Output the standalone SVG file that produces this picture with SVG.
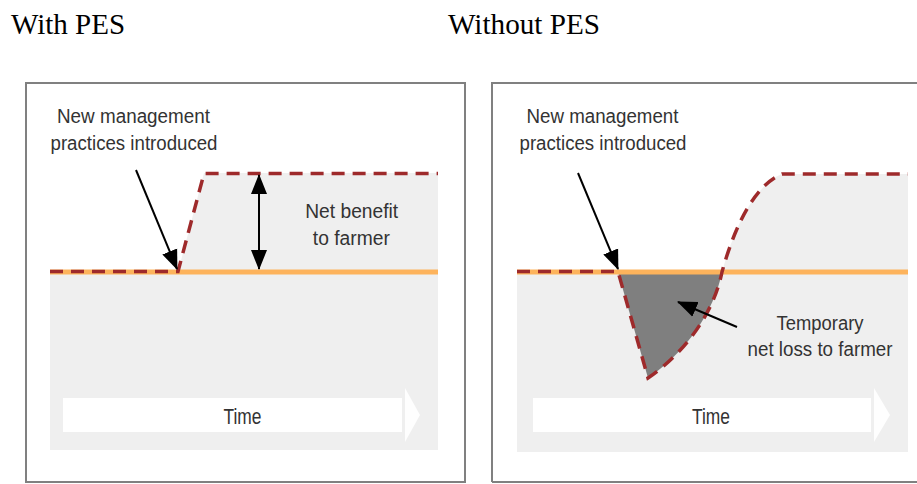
<svg xmlns="http://www.w3.org/2000/svg" width="917" height="484" viewBox="0 0 917 484">
  <defs>
    <marker id="ah" markerUnits="userSpaceOnUse" markerWidth="20" markerHeight="18" refX="19" refY="8" orient="auto-start-reverse" viewBox="0 0 20 16">
      <path d="M0,0 L20,8 L0,16 Z" fill="#000"/>
    </marker>
    <style>
      .title { font-family: "Liberation Serif", "Times New Roman", serif; font-size: 29px; fill: #000; }
      .lbl { font-family: "Liberation Sans Narrow", "Liberation Sans", Arial, sans-serif; font-size: 20px; fill: #333; text-anchor: middle; }
      .time { font-family: "Liberation Sans Narrow", "Liberation Sans", Arial, sans-serif; font-size: 22px; fill: #333; text-anchor: middle; }
      .frame { fill: #fff; stroke: #808080; stroke-width: 2; }
      .bg { fill: #efefef; }
      .loss { fill: #7f7f7f; }
      .base { stroke: #fdb35c; stroke-width: 5; fill: none; }
      .dash { stroke: #9e2a2b; stroke-width: 3.5; fill: none; stroke-dasharray: 13 8; }
      .arrow { stroke: #000; stroke-width: 2; fill: none; marker-end: url(#ah); }
      .darrow { stroke: #000; stroke-width: 2; fill: none; marker-start: url(#ah); marker-end: url(#ah); }
      .timebar { fill: #fff; }
      .timehead { fill: #fff; opacity: 0.9; }
    </style>
  </defs>

  <rect width="917" height="484" fill="#fff"/>

  <g id="title-with">
    <text class="title" x="11" y="34" textLength="114" lengthAdjust="spacingAndGlyphs">With PES</text>
  </g>
  <g id="title-without">
    <text class="title" x="448" y="34" textLength="152" lengthAdjust="spacingAndGlyphs">Without PES</text>
  </g>

  <!-- Left panel -->
  <g id="panel-with">
    <rect class="frame" x="26" y="83" width="439" height="399"/>
    <rect class="bg" x="50" y="272" width="388" height="178"/>
    <path class="bg" d="M178,272 L204,173 L438,173 L438,272 Z"/>
    <rect class="timebar" x="63" y="398" width="339" height="34"/>
    <path class="timehead" d="M405,388 L420,415 L405,442 Z"/>
    <text class="time" x="242.5" y="424" textLength="38" lengthAdjust="spacingAndGlyphs">Time</text>
  </g>

  <!-- Right panel -->
  <g id="panel-without">
    <path d="M492,482 L492,83 L917,83" fill="#fff" stroke="#808080" stroke-width="2"/>
    <path d="M492,482 L917,482" stroke="#808080" stroke-width="2"/>
    <rect class="bg" x="517" y="272" width="391" height="180"/>
    <path class="bg" d="M722,272 C735,225 755,185 782,174 L908,174 L908,272 Z"/>
    <path class="loss" d="M618,272 L648,378 C686,352 714,312 722,272 Z"/>
    <rect class="timebar" x="533" y="398" width="338" height="34"/>
    <path class="timehead" d="M874,388 L890,415 L874,442 Z"/>
    <text class="time" x="711" y="424" textLength="38" lengthAdjust="spacingAndGlyphs">Time</text>
  </g>

  <g id="connectors">
    <line class="base" x1="50" y1="272" x2="438" y2="272"/>
    <path class="dash" d="M50,271.5 L178,271.5 L204,173.5 L438,173.5"/>
    <line class="base" x1="517" y1="272" x2="908" y2="272"/>
    <path class="dash" d="M517,271.5 L618,271.5 L648,378 C686,352 714,312 722,272 C735,225 755,185 782,174 L908,174"/>
    <line class="arrow" x1="136" y1="170" x2="177" y2="269"/>
    <line class="darrow" x1="259" y1="175" x2="259" y2="269"/>
    <line class="arrow" x1="578" y1="173" x2="618" y2="269"/>
    <line class="arrow" x1="737" y1="327" x2="678" y2="302"/>
  </g>

  <g id="label-with-new">
    <text class="lbl" x="133.5" y="123" textLength="153" lengthAdjust="spacingAndGlyphs">New management</text>
    <text class="lbl" x="134" y="150" textLength="167" lengthAdjust="spacingAndGlyphs">practices introduced</text>
  </g>
  <g id="label-benefit">
    <text class="lbl" x="351.7" y="218" textLength="93" lengthAdjust="spacingAndGlyphs">Net benefit</text>
    <text class="lbl" x="351.3" y="245" textLength="77" lengthAdjust="spacingAndGlyphs">to farmer</text>
  </g>
  <g id="label-without-new">
    <text class="lbl" x="602.5" y="123" textLength="152" lengthAdjust="spacingAndGlyphs">New management</text>
    <text class="lbl" x="603" y="150" textLength="167" lengthAdjust="spacingAndGlyphs">practices introduced</text>
  </g>
  <g id="label-loss">
    <text class="lbl" x="820" y="330" textLength="87" lengthAdjust="spacingAndGlyphs">Temporary</text>
    <text class="lbl" x="820" y="356" textLength="145" lengthAdjust="spacingAndGlyphs">net loss to farmer</text>
  </g>
</svg>
